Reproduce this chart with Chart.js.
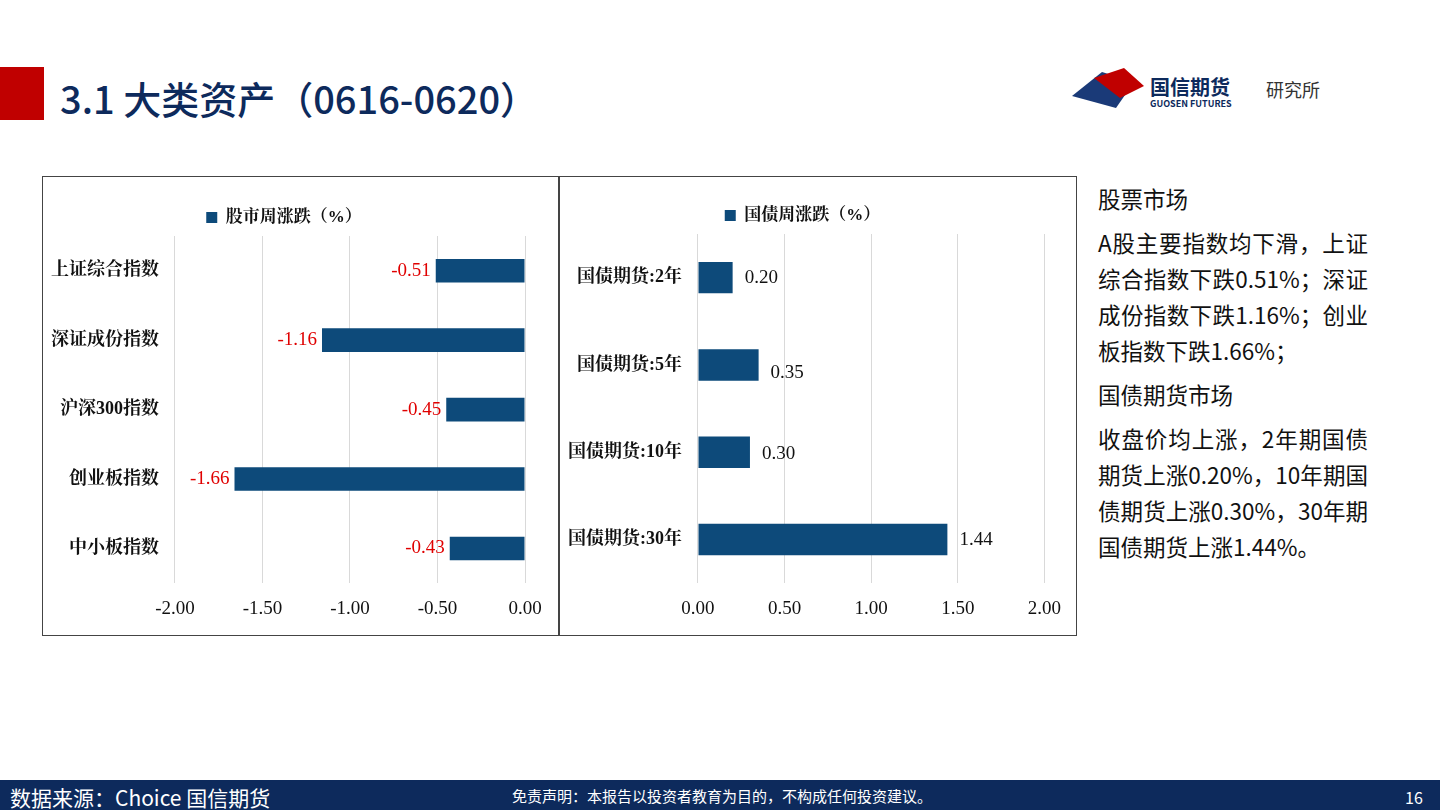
<!DOCTYPE html>
<html><head><meta charset="utf-8">
<script src="https://cdn.jsdelivr.net/npm/chart.js@4/dist/chart.umd.min.js"></script>
<style>
body{margin:0;width:1440px;height:810px;position:relative;background:#fff;font-family:"Noto Sans CJK SC",sans-serif;overflow:hidden}
.box{position:absolute;border:1.5px solid #444;box-sizing:border-box}
#title{position:absolute;left:60px;top:70px;font-size:38px;font-weight:500;color:#0d2a5c;font-family:"Noto Sans CJK SC"}
#side{position:absolute;left:1098px;top:180px;width:270px;font-size:22.5px;line-height:36px;color:#111;text-align:justify;word-break:break-all}
#side p{margin:0 0 8px}
#foot{position:absolute;left:0;top:780px;width:1440px;height:30px;background:#0d2a5c;color:#fff}
</style></head><body>
<div style="position:absolute;left:0;top:67px;width:44px;height:53px;background:#c00000"></div>
<div id="title">3.1 大类资产（0616-0620）</div>
<div style="position:absolute;left:1150px;top:72px;font-size:20px;font-weight:bold;color:#0d2a5c">国信期货</div>
<div style="position:absolute;left:1150px;top:97px;font-size:9px;font-weight:bold;color:#0d2a5c">GUOSEN FUTURES</div>
<div style="position:absolute;left:1266px;top:76px;font-size:18px;color:#333">研究所</div>
<svg style="position:absolute;left:1072px;top:68px" width="75" height="42"><polygon points="0,28 30,4 62,14 44,40" fill="#1a3a78"/><polygon points="22,10 52,0 72,18 48,30" fill="#c00000"/></svg>
<div class="box" style="left:42px;top:176px;width:517px;height:460px"><canvas id="c1"></canvas></div>
<div class="box" style="left:559px;top:176px;width:518px;height:460px"><canvas id="c2"></canvas></div>
<div id="side">
<p>股票市场</p>
<p>A股主要指数均下滑，上证综合指数下跌0.51%；深证成份指数下跌1.16%；创业板指数下跌1.66%；</p>
<p>国债期货市场</p>
<p>收盘价均上涨，2年期国债期货上涨0.20%，10年期国债期货上涨0.30%，30年期国债期货上涨1.44%。</p>
</div>
<div id="foot">
<span style="position:absolute;left:10px;top:2px;font-size:21px">数据来源：Choice  国信期货</span>
<span style="position:absolute;left:512px;top:5px;font-size:15px">免责声明：本报告以投资者教育为目的，不构成任何投资建议。</span>
<span style="position:absolute;left:1405px;top:5px;font-size:16px">16</span>
</div>
<script>
const stockNames = ['上证综合指数','深证成份指数','沪深300指数','创业板指数','中小板指数'];
const stockValues = [-0.51,-1.16,-0.45,-1.66,-0.43];
const bondNames = ['国债期货:2年','国债期货:5年','国债期货:10年','国债期货:30年'];
const bondValues = [0.20,0.35,0.30,1.44];

const serif = 'Times New Roman, Liberation Serif, Noto Serif CJK SC, serif';
const valueLabels = {
  id:'valueLabels',
  afterDatasetsDraw(chart, args, opts){
    const ctx = chart.ctx;
    const meta = chart.getDatasetMeta(0);
    ctx.save();
    ctx.font = '19px ' + serif;
    ctx.fillStyle = opts.color;
    ctx.textBaseline = 'middle';
    meta.data.forEach((bar, i) => {
      const v = chart.data.datasets[0].data[i];
      if (v < 0) { ctx.textAlign='right'; ctx.fillText(v.toFixed(2), bar.x - 5, bar.y); }
      else {
        ctx.textAlign='left';
        const dy = opts.offsets ? opts.offsets[i] : 0;
        ctx.fillText(v.toFixed(2), bar.x + 12, bar.y + dy);
      }
    });
    ctx.restore();
  }
};

function makeChart(id, labels, values, title, min, max, color, w, pad, barPct, offsets) {
  const el = document.getElementById(id);
  el.width = w; el.height = 457;
  el.style.width = w+'px'; el.style.height='457px';
  return new Chart(el, {
    type:'bar',
    data:{labels:labels, datasets:[{label:title, data:values, backgroundColor:'#0d4a7a', barPercentage:barPct, categoryPercentage:1}]},
    options:{
      indexAxis:'y', responsive:false, animation:false,
      layout:{padding:pad},
      scales:{
        x:{min:min,max:max,ticks:{stepSize:0.5,color:'#111',padding:14,font:{family:serif,size:19},callback:v=>Number(v).toFixed(2)},grid:{color:'#d9d9d9',drawTicks:false},border:{display:false}},
        y:{ticks:{color:'#111',font:{family:serif,size:18,weight:'bold'},padding:8},grid:{display:false},border:{display:false}}
      },
      plugins:{
        legend:{labels:{boxWidth:11,boxHeight:11,color:'#111',font:{family:serif,size:17,weight:'bold'},padding:14}},
        tooltip:{enabled:false},
        valueLabels:{color:color, offsets:offsets}
      }
    },
    plugins:[valueLabels]
  });
}
makeChart('c1', stockNames, stockValues, '股市周涨跌（%）', -2, 0, '#e00000', 514, {left:0,right:32,top:18,bottom:0}, 0.34, null);
makeChart('c2', bondNames, bondValues, '国债周涨跌（%）', 0, 2, '#111', 515, {left:0,right:30,top:16,bottom:0}, 0.36, [0,8,2,0]);
</script>
</body></html>
